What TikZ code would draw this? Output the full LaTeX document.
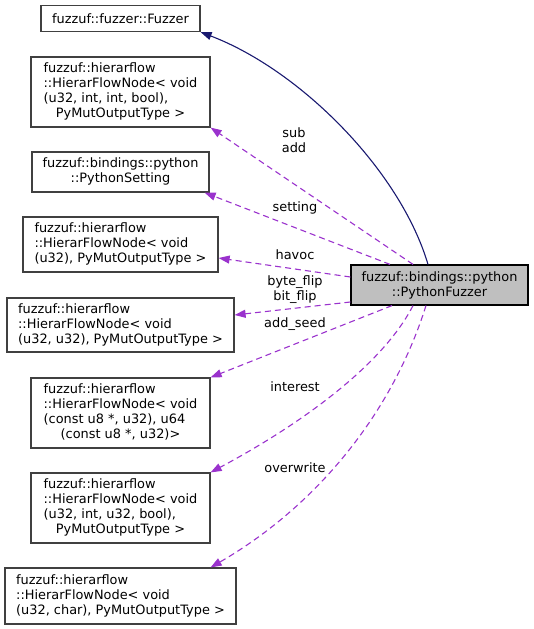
\documentclass[tikz,border=0pt]{standalone}
\usepackage{fontspec}
\setmainfont{DejaVu Sans}
\usetikzlibrary{arrows.meta,calc}
\definecolor{DoxNavy}{RGB}{25,25,112}
\definecolor{DoxOrchid}{RGB}{154,50,205}
\definecolor{DoxGrey}{RGB}{191,191,191}
\definecolor{DoxBorder}{RGB}{64,64,64}
\newcommand{\cltext}[1]{\begin{tabular}{@{}l@{}}#1\end{tabular}}
\newcommand{\lastc}[1]{\multicolumn{1}{@{}c@{}}{#1}}

\begin{document}
\begin{tikzpicture}[x=1pt, y=-1pt, every node/.style={font=\fontsize{12.9}{15}\selectfont}, cls/.style={draw=DoxBorder,line width=1.2pt,fill=white,inner sep=0pt}, focus/.style={cls,draw=black,fill=DoxGrey}, usedby/.style={-{Triangle[length=11pt,width=8pt]},DoxOrchid,dash pattern=on 6pt off 4pt,line width=1.1pt}, inherit/.style={-{Triangle[length=11pt,width=8pt]},DoxNavy,line width=1.1pt}, lbl/.style={align=center,inner sep=0pt}]
\useasboundingbox (0,0) rectangle (533,629);
\node[cls,minimum width=159pt,minimum height=26pt] (fz) at (120.5,18.5) {fuzzuf::fuzzer::Fuzzer};
\node[cls,minimum width=179pt,minimum height=70pt] (hA) at (120.5,92) {\cltext{fuzzuf::hierarflow\\::HierarFlowNode< void\\(u32, int, int, bool),\\\lastc{PyMutOutputType >}}};
\node[cls,minimum width=177pt,minimum height=40pt] (ps) at (120.5,172) {\cltext{fuzzuf::bindings::python\\\lastc{::PythonSetting}}};
\node[cls,minimum width=195pt,minimum height=55pt] (hB) at (120.5,244.5) {\cltext{fuzzuf::hierarflow\\::HierarFlowNode< void\\(u32), PyMutOutputType >}};
\node[cls,minimum width=227pt,minimum height=54pt] (hC) at (120.5,325) {\cltext{fuzzuf::hierarflow\\::HierarFlowNode< void\\(u32, u32), PyMutOutputType >}};
\node[cls,minimum width=179pt,minimum height=70pt] (hD) at (120.5,413) {\cltext{fuzzuf::hierarflow\\::HierarFlowNode< void\\(const u8 *, u32), u64\\\lastc{(const u8 *, u32)>}}};
\node[cls,minimum width=179pt,minimum height=70pt] (hE) at (120.5,508) {\cltext{fuzzuf::hierarflow\\::HierarFlowNode< void\\(u32, int, u32, bool),\\\lastc{PyMutOutputType >}}};
\node[cls,minimum width=231pt,minimum height=56pt] (hF) at (120.5,596) {\cltext{fuzzuf::hierarflow\\::HierarFlowNode< void\\(u32, char), PyMutOutputType >}};
\node[focus,minimum width=177pt,minimum height=40pt,align=center] (pf) at (439.5,285) {fuzzuf::bindings::python\\::PythonFuzzer};
% edge labels
\node[lbl] (lsub) at (294,140) {sub\\add};
\node[lbl] (lset) at (295,208) {setting};
\node[lbl] (lhav) at (295,255) {havoc};
\node[lbl] (lflip) at (295,290) {byte\_flip\\bit\_flip};
\node[lbl] (lseed) at (295,324) {add\_seed};
\node[lbl] (lint) at (295,387) {interest};
\node[lbl] (lover) at (295,468) {overwrite};
% connectors
\draw[inherit] ([xshift=-11.5pt]pf.north) .. controls (400,170) and (300,70) .. (fz.south east);
\draw[usedby] ([xshift=-26.5pt]pf.north) -- (hA.south east);
\draw[usedby] ([xshift=-49.5pt]pf.north) -- ([xshift=-5pt]ps.south east);
\draw[usedby] ([yshift=8pt]pf.west) -- ([yshift=-13.5pt]hB.east);
\draw[usedby] ([yshift=-17pt]pf.west) -- ([yshift=10pt]hC.east);
\draw[usedby] ([xshift=-47.5pt]pf.south) -- (hD.north east);
\draw[usedby] ([xshift=-26.5pt]pf.south) .. controls (380,370) and (290,430) .. (hE.north east);
\draw[usedby] ([xshift=-13.5pt]pf.south) .. controls (390,420) and (310,510) .. ([xshift=-26pt]hF.north east);
\end{tikzpicture}
\end{document}
